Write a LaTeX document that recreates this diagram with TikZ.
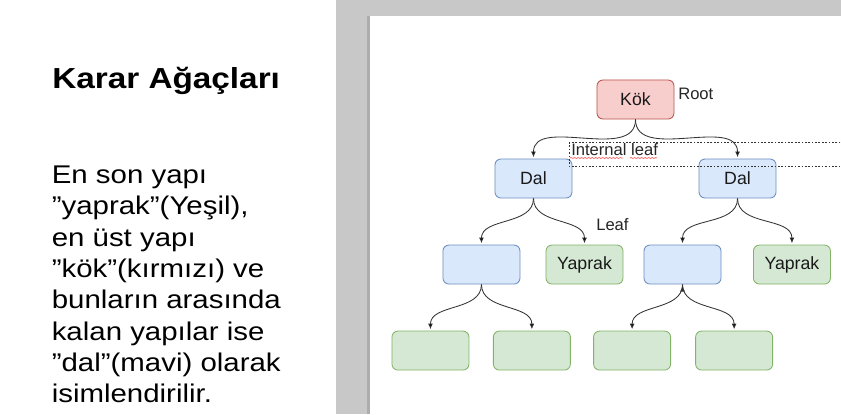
\documentclass[tikz,border=0pt]{standalone}
\usepackage{fontspec}
\setmainfont{Liberation Sans}
\newfontfamily\slidefont[FakeStretch=1.15]{Liberation Sans}
\usetikzlibrary{positioning}
\usetikzlibrary{arrows.meta}
\usetikzlibrary{decorations.pathmorphing}
\definecolor{kokfill}{HTML}{F8CECC}
\definecolor{kokline}{HTML}{B85450}
\definecolor{dalfill}{HTML}{DAE8FC}
\definecolor{dalline}{HTML}{6C8EBF}
\definecolor{yaprakfill}{HTML}{D5E8D4}
\definecolor{yaprakline}{HTML}{82B366}
\definecolor{slidegray}{HTML}{C8C8C8}
\definecolor{edgegray}{HTML}{333333}

\begin{document}
\begin{tikzpicture}[x=0.025cm, y=-0.025cm,
            on grid,
            box/.style = {draw,rounded corners=0.15cm,line width=0.6pt,
                minimum width=1.925cm,minimum height=0.975cm,inner sep=0pt,
                font=\fontsize{12.6}{14}\selectfont,text=black!90},
            kokbox/.style = {box,fill=kokfill,draw=kokline},
            dalbox/.style = {box,fill=dalfill,draw=dalline},
            yaprakbox/.style = {box,fill=yaprakfill,draw=yaprakline},
            unbox/.style = {inner sep=0pt,font=\fontsize{11.8}{14}\selectfont,text=black!85},
            branch/.style = {draw=edgegray,line width=0.6pt,out=-90,in=90,
                shorten >=1pt,-{Latex[length=4pt,width=3.5pt]}},
            notebox/.style = {draw=edgegray,line width=0.5pt,dash pattern=on 1.2pt off 1.2pt},
            squiggle/.style = {draw=red!60,line width=0.5pt,decorate,
                decoration={snake,amplitude=0.4pt,segment length=2.5pt}}]
            \fill[white] (0,0) rectangle (841,414);
            \useasboundingbox (0,0) rectangle (841,414);
            \fill[slidegray] (336,0) rectangle (841,414);
            \fill[black!32] (367,16) rectangle (370,414);
            \fill[white] (370,16) rectangle (841,414);
            \node[anchor=base west,inner sep=0pt,
                font=\slidefont\bfseries\fontsize{20.6}{24}\selectfont] (title) at (52,88.3) {Karar Ağaçları};
            \node[anchor=base west,inner sep=0pt,align=left,
                font=\slidefont\fontsize{18.2}{22.3}\selectfont] (body) at (51.5,402.8) {En son yapı\\
                ”yaprak”(Yeşil),\\ en üst yapı\\ ”kök”(kırmızı) ve\\ bunların arasında\\
                kalan yapılar ise\\ ”dal”(mavi) olarak\\ isimlendirilir.};
            \node[kokbox] (kok) at (635.5,99.5) {Kök};
            \node[dalbox,below left=1.975cm and 2.55cm of kok] (dal1) {Dal};
            \node[dalbox,below right=1.975cm and 2.55cm of kok] (dal2) {Dal};
            \node[dalbox,below left=2.15cm and 1.3cm of dal1] (dal3) {};
            \node[yaprakbox,below right=2.15cm and 1.275cm of dal1] (yaprak1) {Yaprak};
            \node[dalbox,below left=2.15cm and 1.375cm of dal2] (dal4) {};
            \node[yaprakbox,below right=2.15cm and 1.36cm of dal2] (yaprak2) {Yaprak};
            \node[yaprakbox,below left=2.15cm and 1.275cm of dal3] (y1) {};
            \node[yaprakbox,below right=2.15cm and 1.26cm of dal3] (y2) {};
            \node[yaprakbox,below left=2.15cm and 1.26cm of dal4] (y3) {};
            \node[yaprakbox,below right=2.15cm and 1.29cm of dal4] (y4) {};
            \draw[notebox] (569,142) rectangle (841,166);
            \node[unbox,anchor=base west] (ileaf) at (571,155.5) {Internal leaf};
            \draw[squiggle] (570,158) -- (623,158);
            \draw[squiggle] (630,158) -- (657,158);
            \node[unbox,anchor=base west] (root) at (678,99.3) {Root};
            \node[unbox,anchor=base west] (leaf) at (596,230) {Leaf};
            \path[branch]
                (kok.south) edge (dal1.north)
                (kok.south) edge (dal2.north)
                (dal1.south) edge (dal3.north)
                (dal1.south) edge (yaprak1.north)
                (dal2.south) edge (dal4.north)
                (dal2.south) edge (yaprak2.north)
                (dal3.south) edge (y1.north)
                (dal3.south) edge (y2.north)
                (dal4.south) edge (y3.north)
                (dal4.south) edge (y4.north);
\end{tikzpicture}
\end{document}
